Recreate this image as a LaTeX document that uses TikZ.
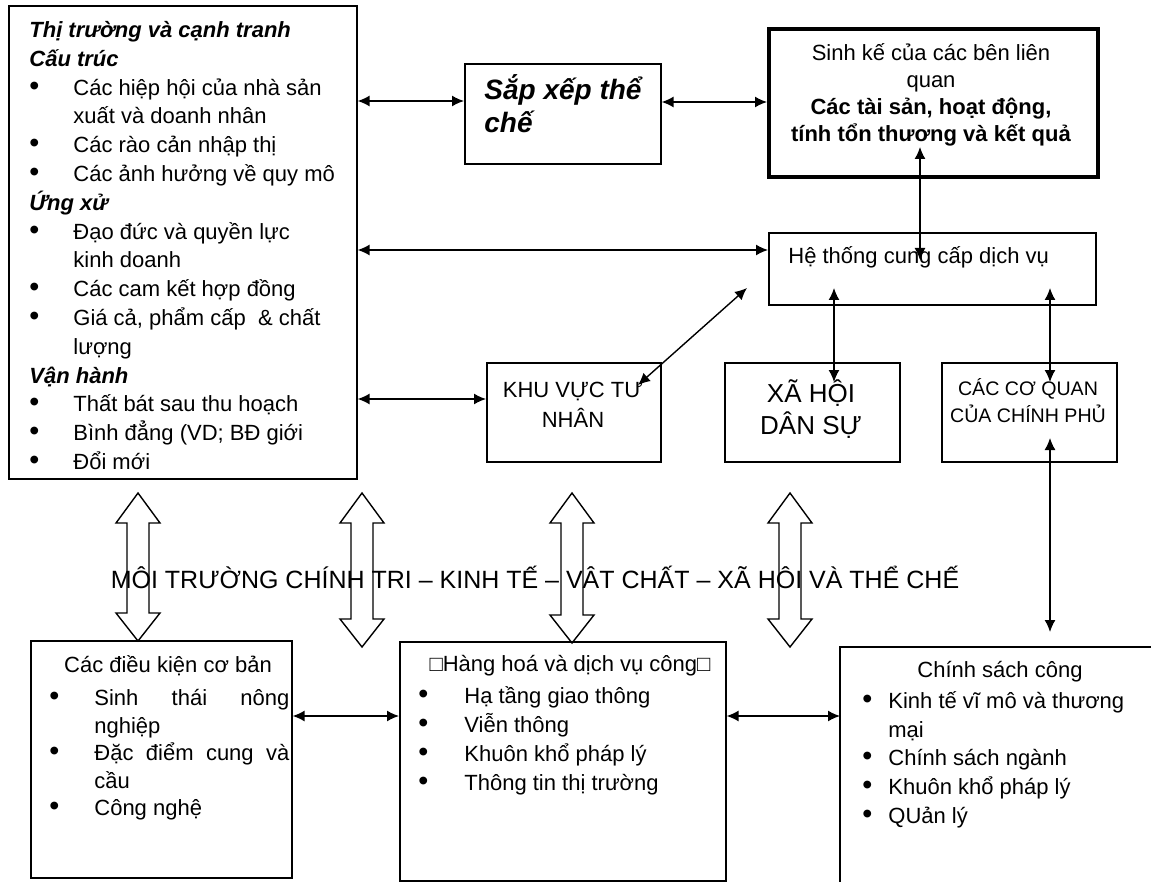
\documentclass[tikz,border=0pt]{standalone}
\usepackage{fontspec}
\setmainfont{Liberation Sans}
\usetikzlibrary{arrows.meta,positioning}
\tikzset{
  hop/.style={draw, line width=0.8pt, inner sep=0pt, anchor=north west},
  dub/.style={{Latex[length=6pt,width=5.5pt]}-{Latex[length=6pt,width=5.5pt]}, line width=0.7pt},
  chu/.style={inner sep=0pt, font=\fontsize{11}{14.4}\selectfont},
  rong/.style={line width=0.7pt},
}
\newcommand\bul[2][22pt]{\makebox[#1][l]{\scalebox{1.3}{\textbullet}}#2}
\newcommand\tiep[2][22pt]{\makebox[#1]{}#2}
\begin{document}
\begin{tikzpicture}[x=0.5pt,y=-0.5pt]
\useasboundingbox (0,0) rectangle (1151,882);
% boxes
\node[hop, minimum width=174pt, minimum height=236.5pt] (thitruong) at (8,5) {};
\node[hop, minimum width=98pt, minimum height=50pt] (sapxep) at (464,63) {};
\node[hop, line width=2pt, minimum width=164.5pt, minimum height=74pt] (sinhke) at (767,27) {};
\node[hop, minimum width=163.5pt, minimum height=36pt] (hethong) at (768,232) {};
\node[hop, minimum width=87pt, minimum height=49.5pt] (khuvuc) at (486,362) {};
\node[hop, minimum width=87.5pt, minimum height=49.5pt] (xahoi) at (724,362) {};
\node[hop, minimum width=87.5pt, minimum height=49.5pt] (coquan) at (941,362) {};
\node[hop, minimum width=130.5pt, minimum height=118.5pt] (dieukien) at (30,640) {};
\node[hop, minimum width=163pt, minimum height=119.5pt] (hanghoa) at (399,641) {};
\node[inner sep=0pt, anchor=north west, minimum width=155.5pt, minimum height=117.5pt] (chinhsach) at (840,647) {};
\draw[line width=0.8pt] (chinhsach.north east) -- (chinhsach.north west) -- (chinhsach.south west);

% texts
\node[chu, anchor=north west, align=left] (thitruong-t) at (29,21) {%
\textbf{\textit{Thị trường và cạnh tranh}}\\
\textbf{\textit{Cấu trúc}}\\
\bul{Các hiệp hội của nhà sản}\\
\tiep{xuất và doanh nhân}\\
\bul{Các rào cản nhập thị}\\
\bul{Các ảnh hưởng về quy mô}\\
\textbf{\textit{Ứng xử}}\\
\bul{Đạo đức và quyền lực}\\
\tiep{kinh doanh}\\
\bul{Các cam kết hợp đồng}\\
\bul{Giá cả, phẩm cấp \ \& chất}\\
\tiep{lượng}\\
\textbf{\textit{Vận hành}}\\
\bul{Thất bát sau thu hoạch}\\
\bul{Bình đẳng (VD; BĐ giới}\\
\bul{Đổi mới}};
\node[chu, anchor=north west, align=left, font=\fontsize{14}{16.5}\selectfont\bfseries\itshape] (sapxep-t) at (484,74) {Sắp xếp thể\\chế};
\node[chu, align=center, font=\fontsize{11}{13.5}\selectfont] (sinhke-t) at (931,95) {Sinh kế của các bên liên\\quan\\\textbf{Các tài sản, hoạt động,}\\\textbf{tính tổn thương và kết quả}};
\node[chu, anchor=west] (hethong-t) at (788,257) {Hệ thống cung cấp dịch vụ};
\node[chu, align=center, font=\fontsize{11}{15}\selectfont] (khuvuc-t) at (573,405) {KHU VỰC TƯ\\NHÂN};
\node[chu, align=center, font=\fontsize{13}{16}\selectfont] (xahoi-t) at (811,409) {XÃ HỘI\\DÂN SỰ};
\node[chu, align=center, font=\fontsize{9.8}{13.5}\selectfont] (coquan-t) at (1028,401) {CÁC CƠ QUAN\\CỦA CHÍNH PHỦ};
\node[chu] (dieukien-t) at (168,666) {Các điều kiện cơ bản};
\node[chu, anchor=north west, align=left, font=\fontsize{11}{13.75}\selectfont] (dieukien-l) at (49,689) {%
\bul[22.5pt]{\makebox[97.5pt][s]{Sinh thái nông}}\\
\tiep[22.5pt]{nghiệp}\\
\bul[22.5pt]{\makebox[97.5pt][s]{Đặc điểm cung và}}\\
\tiep[22.5pt]{cầu}\\
\bul[22.5pt]{Công nghệ}};
\node[chu] (hanghoa-t) at (570,666) {□Hàng hoá và dịch vụ công□};
\node[chu, anchor=north west, align=left, font=\fontsize{11}{14.5}\selectfont] (hanghoa-l) at (418,686) {%
\bul[23pt]{Hạ tầng giao thông}\\
\bul[23pt]{Viễn thông}\\
\bul[23pt]{Khuôn khổ pháp lý}\\
\bul[23pt]{Thông tin thị trường}};
\node[chu] (chinhsach-t) at (1000,672) {Chính sách công};
\node[chu, anchor=north west, align=left, font=\fontsize{11}{14.35}\selectfont] (chinhsach-l) at (862,691) {%
\bul[13pt]{Kinh tế vĩ mô và thương}\\
\tiep[13pt]{mại}\\
\bul[13pt]{Chính sách ngành}\\
\bul[13pt]{Khuôn khổ pháp lý}\\
\bul[13pt]{QUản lý}};

% hollow double arrows
\foreach \x/\b in {138/641, 362/647, 572/643, 790/647}
  \draw[rong] (\x,493) -- (\x+22,523) -- (\x+11,523) -- (\x+11,\b-28) -- (\x+22,\b-28)
    -- (\x,\b) -- (\x-22,\b-28) -- (\x-11,\b-28) -- (\x-11,523) -- (\x-22,523) -- cycle;
\node[font=\fontsize{12.5}{15}\selectfont, inner sep=0pt] (moitruong) at (535,577) {MÔI TRƯỜNG CHÍNH TRI – KINH TẾ – VÂT CHẤT – XÃ HÔI VÀ THỂ CHẾ};

% connectors
\coordinate (dg-a) at (747,288);
\coordinate (dg-b) at (638,385);
\coordinate (sk-in) at (920,147);
\coordinate (ht-in) at (920,260);
\coordinate (ht-a) at (834,288);
\coordinate (xh-a) at (834,382);
\coordinate (ht-b) at (1050,288);
\coordinate (cq-a) at (1050,382);
\coordinate (cq-b) at (1050,438);
\coordinate (cs-a) at (1050,632);
\draw[dub] (thitruong.east |- 0,101) -- (sapxep.west |- 0,101);
\draw[dub] (sapxep.east |- 0,102) -- (sinhke.west |- 0,102);
\draw[dub] (thitruong.east |- 0,250) -- (hethong.west |- 0,250);
\draw[dub] (thitruong.east |- 0,399) -- (khuvuc.west |- 0,399);
\draw[dub] (dg-a) -- (dg-b);
\draw[dub] (sk-in) -- (ht-in);
\draw[dub] (ht-a) -- (xh-a);
\draw[dub] (ht-b) -- (cq-a);
\draw[dub] (cq-b) -- (cs-a);
\draw[dub] (dieukien.east |- 0,716) -- (hanghoa.west |- 0,716);
\draw[dub] (hanghoa.east |- 0,716) -- (chinhsach.west |- 0,716);
\end{tikzpicture}
\end{document}
